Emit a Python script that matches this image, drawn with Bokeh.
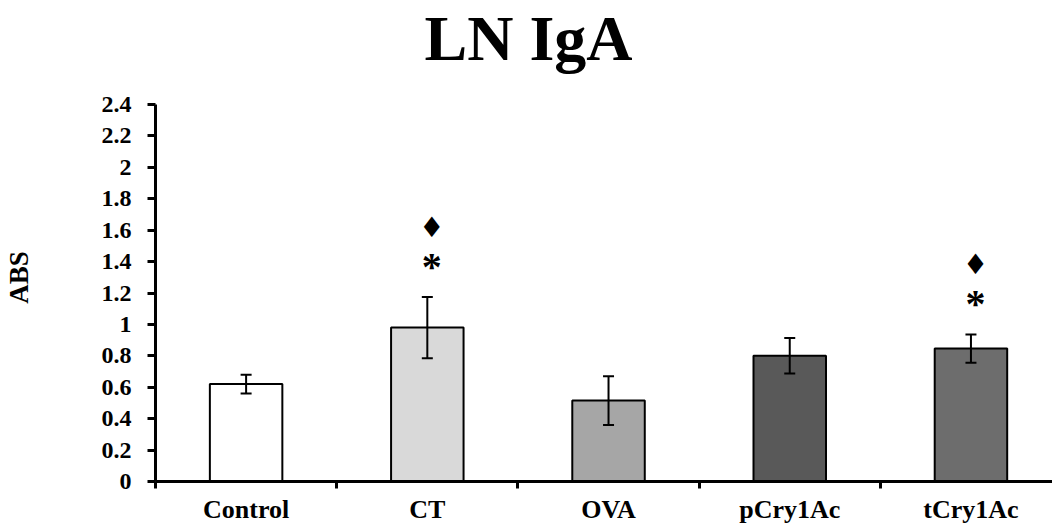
from bokeh.plotting import figure
from bokeh.models import (FixedTicker, NumeralTickFormatter, Range1d, Whisker,
                          ColumnDataSource, TeeHead, LinearAxis)
from bokeh.core.properties import value
from bokeh.embed import file_html
from bokeh.resources import INLINE

# ---- data ----
categories = ["Control", "CT", "OVA", "pCry1Ac", "tCry1Ac"]
means = [0.62, 0.98, 0.515, 0.80, 0.846]
errors = [0.06, 0.195, 0.155, 0.113, 0.09]
colors = ["#ffffff", "#d9d9d9", "#a6a6a6", "#595959", "#6d6d6d"]
significant = ["CT", "tCry1Ac"]          # marked with * and ♦
y_ticks = [0, 0.2, 0.4, 0.6, 0.8, 1.0, 1.2, 1.4, 1.6, 1.8, 2.0, 2.2, 2.4]

FONT = "Liberation Serif"
Y_MAX = y_ticks[-1]

xs = [i + 0.5 for i in range(len(categories))]
src = ColumnDataSource(dict(
    x=xs, top=means, color=colors,
    upper=[m + e for m, e in zip(means, errors)],
    lower=[m - e for m, e in zip(means, errors)],
))

# frame spans 73..481 px; the axis itself is bounded to 0..2.4 (104..481 px)
p = figure(width=1052, height=527, output_backend="svg", toolbar_location=None,
           x_range=Range1d(0, 4.95), y_range=Range1d(0, Y_MAX * 408 / 377),
           min_border_left=155, min_border_right=0, min_border_top=0, min_border_bottom=46)
p.outline_line_color = None
p.xgrid.visible = False
p.ygrid.visible = False
p.background_fill_color = "white"

p.vbar(x="x", top="top", width=0.40, bottom=0, source=src,
       fill_color="color", line_color="black", line_width=2)

w = Whisker(base="x", upper="upper", lower="lower", source=src, level="overlay",
            line_color="black", line_width=2,
            upper_head=TeeHead(size=11, line_width=2, line_color="black"),
            lower_head=TeeHead(size=11, line_width=2, line_color="black"))
p.add_layout(w)

# significance markers
sx = [xs[categories.index(c)] + 0.025 for c in significant]
stop = [means[categories.index(c)] + errors[categories.index(c)] for c in significant]
p.text(x=sx, y=[t + 0.195 for t in stop], text=["*"] * len(sx),
       text_font=value(FONT), text_font_size="40px", text_font_style="bold",
       text_align="center", text_baseline="middle", text_color="black")
p.text(x=sx, y=[t + 0.445 for t in stop], text=["\u2666"] * len(sx),
       text_font=value("DejaVu Sans"), text_font_size="28px",
       text_align="center", text_baseline="middle", text_color="black")

# title
p.title.text = "LN IgA"
p.title.text_font = FONT
p.title.text_font_size = "64px"
p.title.text_font_style = "bold"
p.title.text_color = "black"
p.title.align = "left"
p.title.offset = 269
p.title.standoff = 0

# y axis
ya = p.yaxis[0]
ya.bounds = (0, Y_MAX)
ya.ticker = FixedTicker(ticks=y_ticks, minor_ticks=[])
ya.formatter = NumeralTickFormatter(format="0.[0]")
ya.axis_line_width = 3
ya.major_tick_line_width = 3
ya.major_tick_out = 8
ya.major_tick_in = 0
ya.minor_tick_out = 0
ya.minor_tick_in = 0
ya.major_label_standoff = 16
ya.major_label_text_font = FONT
ya.major_label_text_font_size = "24px"
ya.major_label_text_font_style = "bold"
ya.major_label_text_color = "black"

# y axis title, drawn by a bare axis so it can sit slightly above the axis centre
abs_axis = LinearAxis(axis_label="ABS", bounds=(0.1, Y_MAX),
                      ticker=FixedTicker(ticks=[], minor_ticks=[]),
                      axis_line_color=None, major_tick_line_color=None,
                      minor_tick_line_color=None, major_label_text_font_size="0px",
                      major_tick_out=0, major_tick_in=0, minor_tick_out=0, minor_tick_in=0,
                      major_label_standoff=0,
                      axis_label_text_font=FONT, axis_label_text_font_size="27px",
                      axis_label_text_font_style="bold", axis_label_text_color="black",
                      axis_label_standoff=65)
p.add_layout(abs_axis, "left")

# x axis: ticks at group boundaries (minor), labels at group centres (major)
xa = p.xaxis[0]
xa.ticker = FixedTicker(ticks=xs, minor_ticks=list(range(len(categories) + 1)))
xa.major_label_overrides = {x: c for x, c in zip(xs, categories)}
xa.axis_line_width = 3
xa.major_tick_out = 0
xa.major_tick_in = 0
xa.minor_tick_out = 7
xa.minor_tick_in = 0
xa.minor_tick_line_width = 3
xa.major_label_standoff = 6
xa.major_label_text_font = FONT
xa.major_label_text_font_size = "26px"
xa.major_label_text_font_style = "bold"
xa.major_label_text_color = "black"

open("out.html", "w").write(file_html(p, INLINE))
